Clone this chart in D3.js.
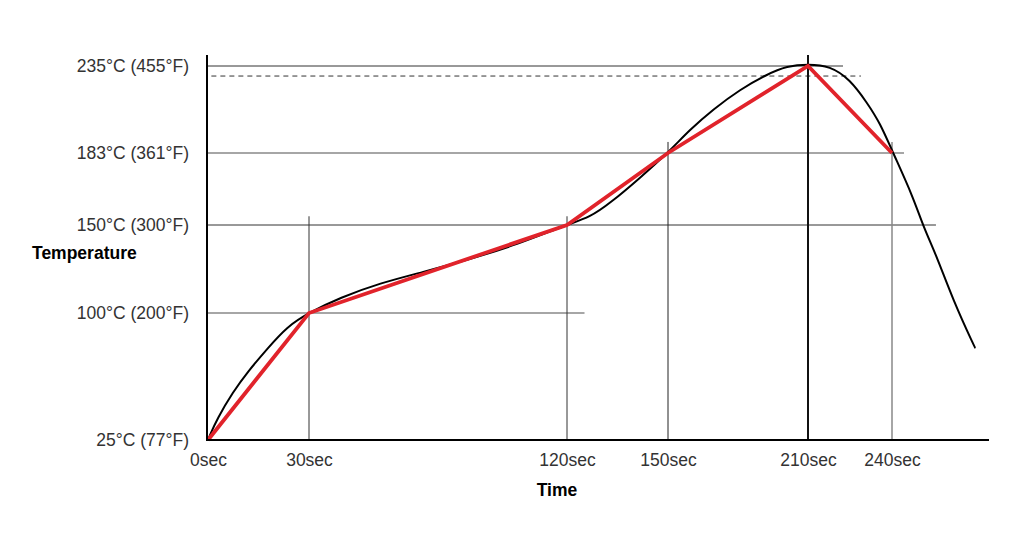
<!DOCTYPE html>
<html>
<head>
<meta charset="utf-8">
<script src="https://cdn.jsdelivr.net/npm/d3@7"></script>
<style>
  body { margin: 0; background: #fff; }
  svg { display: block; font-family: "Liberation Sans", Arial, sans-serif; }
</style>
</head>
<body>
<svg id="chart" width="1024" height="536"></svg>
<script>
// tick positions of the profile (not evenly spaced on the picture)
var xTicks = [0, 30, 120, 150, 210, 240];
var xTickLabels = ["0sec", "30sec", "120sec", "150sec", "210sec", "240sec"];
var yTicks = [25, 100, 150, 183, 235];
var yTickLabels = ["25°C (77°F)", "100°C (200°F)", "150°C (300°F)", "183°C (361°F)", "235°C (455°F)"];

// red target profile
var targetTime = [0, 30, 120, 150, 210, 240];
var targetTemp = [25, 100, 150, 183, 235, 183];

var curveTime = [0, 0.5, 2.7, 7.4, 11.9, 17.5, 23.5, 30, 40.8, 54.8, 69.8, 85.1, 102.6, 120,
                 126.8, 132.8, 141.7, 150, 159.4, 169.3, 180.9, 192.4, 201, 210, 217.9,
                 225, 231.1, 235.7, 240.4, 247.5, 251.1, 256.1, 261.8, 269.6, 269.8];
var curveTemp = [25, 27.5, 37.5, 53.3, 65.6, 78.6, 92, 100.2, 108.7, 117, 123.3, 130.1, 138.8, 150.2,
                 153.5, 160, 171.6, 183.2, 197, 209, 221, 230, 235, 236.2, 235,
                 227, 213, 201, 183, 163, 149.4, 131.8, 107.4, 79.5, 79.3];

// guide lines: horizontal ones run from time 0 to "until", vertical ones from 25°C up to "until"
var hGuideTemp  = [235, 183, 150, 100];
var hGuideUntil = [222.5, 244.3, 255.7, 125.2];
var vGuideTime  = [30, 120, 150, 210, 240];
var vGuideUntil = [154, 154, 189.6, 241.6, 189.6];
var dashTemp = 229, dashFrom = 1, dashUntil = 228.9;

var svg = d3.select("#chart");

var x = d3.scaleLinear().domain(xTicks).range([208, 309, 567, 668, 808, 892]);
var y = d3.scaleLinear().domain(yTicks).range([440, 313, 225, 153, 66]);

var axisTop = 55, axisRight = 989;

var hStyle = [["#333", 1], ["#888", 1.5], ["#333", 1], ["#888", 1.5]];
var vStyle = [["#333", 1], ["#333", 1], ["#222", 1], ["#111", 2], ["#888", 1.5]];

// horizontal guides
svg.append("g").selectAll("line")
    .data(hGuideTemp)
    .join("line")
    .attr("x1", x(0))
    .attr("x2", function(d, i) { return x(hGuideUntil[i]); })
    .attr("y1", function(d) { return y(d); })
    .attr("y2", function(d) { return y(d); })
    .attr("stroke", function(d, i) { return hStyle[i][0]; })
    .attr("stroke-width", function(d, i) { return hStyle[i][1]; });

// dashed line under the peak
svg.append("line")
    .attr("x1", x(dashFrom)).attr("x2", x(dashUntil))
    .attr("y1", y(dashTemp)).attr("y2", y(dashTemp))
    .attr("stroke", "#333")
    .attr("stroke-width", 1)
    .attr("stroke-dasharray", "5,4");

// vertical guides
svg.append("g").selectAll("line")
    .data(vGuideTime)
    .join("line")
    .attr("x1", function(d) { return x(d); })
    .attr("x2", function(d) { return x(d); })
    .attr("y1", y(25))
    .attr("y2", function(d, i) { return y(vGuideUntil[i]); })
    .attr("stroke", function(d, i) { return vStyle[i][0]; })
    .attr("stroke-width", function(d, i) { return vStyle[i][1]; });

// measured curve
var curvePts = curveTime.map(function(t, i) { return [t, curveTemp[i]]; });
var smooth = d3.line()
    .x(function(d) { return x(d[0]); })
    .y(function(d) { return y(d[1]); })
    .curve(d3.curveBasis);
svg.append("path")
    .datum(curvePts)
    .attr("fill", "none")
    .attr("stroke", "#000")
    .attr("stroke-width", 2)
    .attr("d", smooth);

// target profile
var targetPts = targetTime.map(function(t, i) { return [t, targetTemp[i]]; });
var straight = d3.line()
    .x(function(d) { return x(d[0]); })
    .y(function(d) { return y(d[1]); });
svg.append("path")
    .datum(targetPts)
    .attr("fill", "none")
    .attr("stroke", "#e1232b")
    .attr("stroke-width", 3.8)
    .attr("stroke-linejoin", "miter")
    .attr("d", straight);

// axes (labels only, lines drawn below)
var gx = svg.append("g")
    .attr("transform", "translate(0," + y(25) + ")")
    .call(d3.axisBottom(x)
        .tickValues(xTicks)
        .tickSize(0)
        .tickPadding(14)
        .tickFormat(function(d, i) { return xTickLabels[i]; }));
var gy = svg.append("g")
    .attr("transform", "translate(" + x(0) + ",0)")
    .call(d3.axisLeft(y)
        .tickValues(yTicks)
        .tickSize(0)
        .tickPadding(19)
        .tickFormat(function(d, i) { return yTickLabels[i]; }));
[gx, gy].forEach(function(g) {
    g.select(".domain").remove();
    g.selectAll("text")
        .attr("font-family", "'Liberation Sans', Arial, sans-serif")
        .attr("font-size", 17.5)
        .attr("fill", "#333");
});

svg.append("line")
    .attr("x1", x(0) - 1).attr("x2", x(0) - 1)
    .attr("y1", axisTop).attr("y2", y(25) + 1)
    .attr("stroke", "#000").attr("stroke-width", 2);
svg.append("line")
    .attr("x1", x(0) - 2).attr("x2", axisRight)
    .attr("y1", y(25)).attr("y2", y(25))
    .attr("stroke", "#000").attr("stroke-width", 2);

// axis titles
svg.append("text")
    .attr("x", 32).attr("y", 259)
    .attr("font-size", 17.5).attr("font-weight", "bold")
    .attr("fill", "#000")
    .text("Temperature");
svg.append("text")
    .attr("x", 557).attr("y", 496)
    .attr("text-anchor", "middle")
    .attr("font-size", 17.5).attr("font-weight", "bold")
    .attr("fill", "#000")
    .text("Time");
</script>
</body>
</html>
